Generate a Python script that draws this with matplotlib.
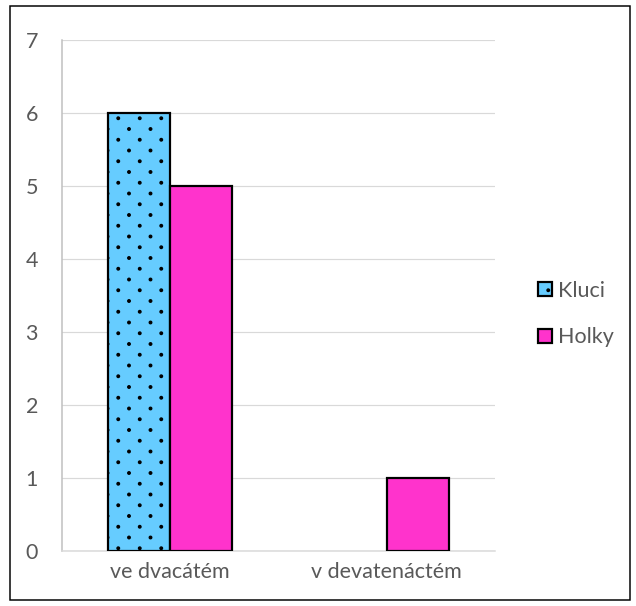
import matplotlib
matplotlib.use("Agg")
import matplotlib.pyplot as plt
import matplotlib.hatch as mh
from matplotlib.path import Path
from matplotlib.patches import Rectangle
import numpy as np

categories = ["ve dvacátém", "v devatenáctém"]
kluci = [6, 0]
holky = [5, 1]
yticks = [0, 1, 2, 3, 4, 5, 6, 7]

DPI = 129
W, H = 636, 606
def pt(px):
    return px * 72.0 / DPI


class DiagDots(mh.HatchPatternBase):
    """Small filled dots on a diagonal (staggered) lattice, like Excel's dotted fill."""
    def __init__(self, hatch, density):
        self.n = hatch.count('.') * density
        circ = Path.unit_circle()
        self.sv = circ.vertices
        self.sc = circ.codes
        if self.n == 0:
            self.num_vertices = 0
            return
        half = self.n // 2
        count = sum((half + 1) if r % 2 == 0 else half for r in range(self.n + 1))
        self.num_vertices = count * len(self.sv)

    def set_vertices_and_codes(self, vertices, codes):
        n = self.n
        off = 1.0 / n
        half = n // 2
        sv = self.sv * off * 0.12
        vp, cp = [], []
        for r in range(n + 1):
            if r % 2 == 0:
                cols = np.linspace(0, 1, half + 1)
            else:
                cols = np.linspace(off, 1 - off, half)
            for c in cols:
                vp.append(sv + [c, r * off])
                cp.append(self.sc)
        np.concatenate(vp, out=vertices)
        np.concatenate(cp, out=codes)


mh._hatch_types = [DiagDots if t is mh.SmallFilledCircles else t for t in mh._hatch_types]

plt.rcParams['font.family'] = ['Lato', 'DejaVu Sans']
plt.rcParams['hatch.linewidth'] = pt(1.3)
plt.rcParams['hatch.color'] = '#1c2530'

fig = plt.figure(figsize=(W / DPI, H / DPI), dpi=DPI)
fig.patches.append(Rectangle((10/W, 6/H), 620/W, 594/H, transform=fig.transFigure,
                             fill=False, edgecolor='black', linewidth=pt(1.5)))
ax = fig.add_axes([62/W, 55/H, 433/W, 511/H])

x = np.arange(len(categories))
w = 0.286
k_edges = ['black' if v > 0 else 'none' for v in kluci]
h_edges = ['black' if v > 0 else 'none' for v in holky]
ax.bar(x - w/2, kluci, w, color='#66ccff', edgecolor=k_edges, linewidth=pt(2.2),
       hatch='..', label='Kluci', zorder=3)
ax.bar(x + w/2, holky, w, color='#ff33cc', edgecolor=h_edges, linewidth=pt(2.2),
       label='Holky', zorder=3)

ax.set_xlim(-0.5, 1.5)
ax.set_ylim(0, 7)
ax.set_yticks(yticks)
ax.set_xticks(x)
ax.set_xticklabels(categories)
ax.yaxis.grid(True, color='#d9d9d9', linewidth=pt(1.2))
ax.set_axisbelow(True)
for s in ['top', 'right']:
    ax.spines[s].set_visible(False)
ax.spines['left'].set_color('#bfbfbf')
ax.spines['left'].set_linewidth(pt(1.5))
ax.spines['bottom'].set_color('#d9d9d9')
ax.spines['bottom'].set_linewidth(pt(1.5))
ax.tick_params(axis='both', length=0, labelsize=pt(21.5), colors='#595959')
ax.tick_params(axis='y', pad=pt(24))
ax.tick_params(axis='x', pad=pt(11))

handles, labels = ax.get_legend_handles_labels()
leg = fig.legend(handles, labels, loc='center left', bbox_to_anchor=(519/W, 1 - 314/H),
                 frameon=False, fontsize=pt(21.5), handlelength=0.62, handleheight=0.62,
                 handletextpad=0.3, labelspacing=1.25, labelcolor='#595959')
for hdl in leg.legend_handles:
    hdl.set_edgecolor('black')
    hdl.set_linewidth(pt(2.2))
fig.savefig("out.png", dpi=DPI)
